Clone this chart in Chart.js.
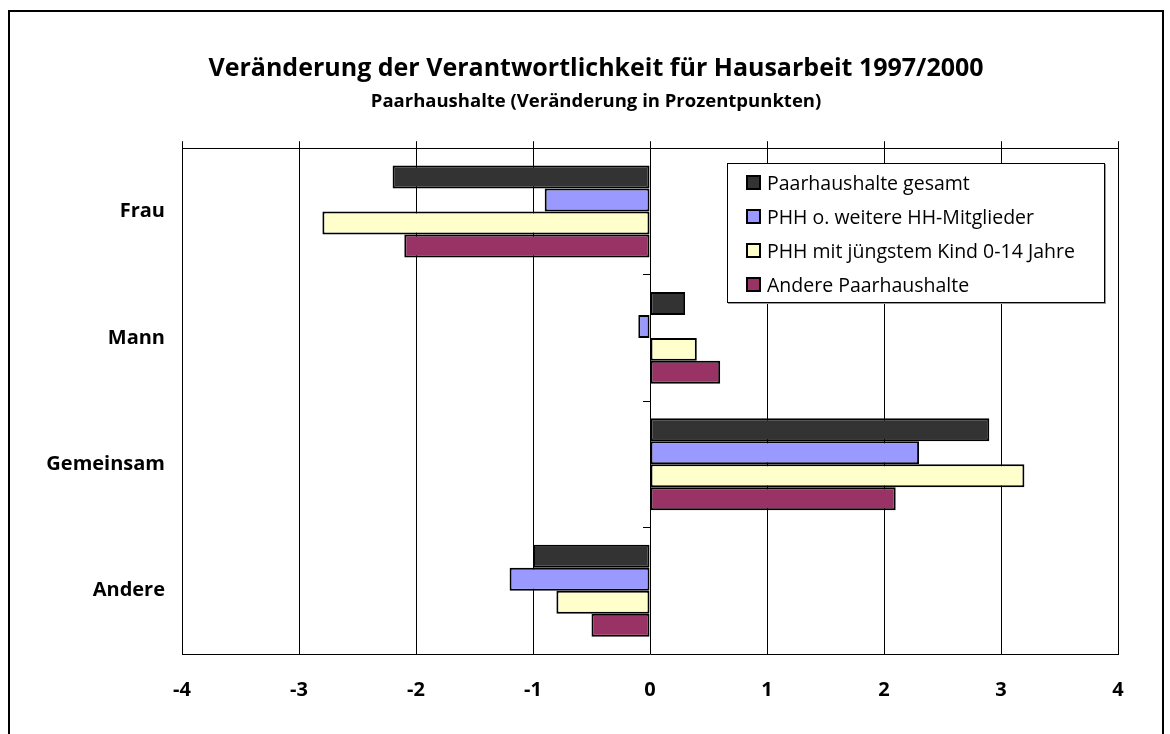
<!DOCTYPE html>
<html lang="de">
<head>
<meta charset="utf-8">
<title>Veränderung der Verantwortlichkeit für Hausarbeit 1997/2000</title>
<script src="https://cdn.jsdelivr.net/npm/chart.js@4.4.1/dist/chart.umd.min.js"></script>
<style>
    html, body { margin: 0; padding: 0; background: #fff; overflow: hidden; }
    body { width: 1170px; height: 734px; position: relative; font-family: "Open Sans", "Noto Sans", sans-serif; }
    #frame { position: absolute; left: 8px; top: 10px; width: 1152px; height: 760px; border: 2px solid #000; }
    #wrap { position: absolute; left: 0; top: 0; width: 1214px; height: 734px; }
    #legend {
        position: absolute; left: 727px; top: 163px; width: 376px; height: 137px;
        border: 1px solid #000; background: #fff; box-shadow: 1px 1px 0 #999;
        padding-top: 1px;
    }
    .row { display: flex; align-items: center; height: 34px; font-size: 19.5px; color: #000; white-space: nowrap; }
    .sw { width: 11px; height: 11px; border: 2px solid #000; margin-left: 18px; margin-right: 6px; flex-shrink: 0; }
</style>
</head>
<body>
<div id="frame"></div>
<div id="wrap"><canvas id="chart" width="1214" height="734"></canvas></div>
<div id="legend"></div>

<script>
// Kategorien und Reihen (Veränderung in Prozentpunkten)
const categories = ['Frau', 'Mann', 'Gemeinsam', 'Andere'];
const seriesNames = [
    'Paarhaushalte gesamt',
    'PHH o. weitere HH-Mitglieder',
    'PHH mit jüngstem Kind 0-14 Jahre',
    'Andere Paarhaushalte'
];
const gesamt = [-2.2, 0.3, 2.9, -1.0];
const ohneWeitere = [-0.9, -0.1, 2.3, -1.2];
const mitKind = [-2.8, 0.4, 3.2, -0.8];
const andere = [-2.1, 0.6, 2.1, -0.5];
const xTicks = [-4, -3, -2, -1, 0, 1, 2, 3, 4];
const seriesColors = ['#333333', '#9999ff', '#ffffcc', '#993366'];

const FONT = '"Open Sans", "Noto Sans", sans-serif';

function buildLegend() {
    const box = document.getElementById('legend');
    seriesNames.forEach((name, i) => {
        const row = document.createElement('div');
        row.className = 'row';
        row.innerHTML = `<span class="sw" style="background:${seriesColors[i]}"></span><span>${name}</span>`;
        box.appendChild(row);
    });
}

function initChart() {
    const ctx = document.getElementById('chart').getContext('2d');
    const values = [gesamt, ohneWeitere, mitKind, andere];

    new Chart(ctx, {
        type: 'bar',
        data: {
            labels: categories,
            datasets: seriesNames.map((name, i) => ({
                label: name,
                data: values[i],
                backgroundColor: seriesColors[i],
                borderColor: '#000',
                borderWidth: 2,
                borderSkipped: false,
                categoryPercentage: 0.727,
                barPercentage: 1.0
            }))
        },
        options: {
            indexAxis: 'y',
            responsive: false,
            animation: false,
            layout: {
                // canvas is wider than the page; right part is cut off
                padding: { top: 42, left: 0, right: 22, bottom: 0 }
            },
            plugins: {
                legend: { display: false },
                tooltip: { enabled: false },
                title: {
                    display: true,
                    text: 'Veränderung der Verantwortlichkeit für Hausarbeit 1997/2000',
                    color: '#000',
                    font: { family: FONT, size: 25, weight: 'bold' },
                    padding: { top: 12, bottom: 6 }
                },
                subtitle: {
                    display: true,
                    text: 'Paarhaushalte (Veränderung in Prozentpunkten)',
                    color: '#000',
                    font: { family: FONT, size: 18.5, weight: 'bold' },
                    padding: { top: 1, bottom: 28 }
                }
            },
            scales: {
                x: {
                    type: 'linear',
                    position: 'bottom',
                    min: -4,
                    max: 4,
                    afterBuildTicks: function(scale) {
                        scale.ticks = xTicks.map(v => ({ value: v }));
                    },
                    afterFit: function(scale) { scale.height = 80; },
                    grid: { color: '#000', lineWidth: 1, drawTicks: false },
                    border: { display: true, color: '#000', width: 1 },
                    ticks: {
                        color: '#000',
                        padding: 24,
                        font: { family: FONT, size: 20, weight: 'bold' }
                    }
                },
                x2: {
                    type: 'linear',
                    position: 'top',
                    min: -4,
                    max: 4,
                    afterBuildTicks: function(scale) {
                        scale.ticks = xTicks.map(v => ({ value: v }));
                    },
                    afterFit: function(scale) { scale.height = 7; },
                    grid: { color: '#000', lineWidth: 1, drawOnChartArea: false, drawTicks: true, tickLength: 7 },
                    border: { display: true, color: '#000', width: 1 },
                    ticks: { display: false }
                },
                y: {
                    position: 'left',
                    afterFit: function(scale) { scale.width = 182; },
                    grid: { display: false, drawTicks: false },
                    border: { display: false },
                    ticks: {
                        color: '#000',
                        padding: 17,
                        font: { family: FONT, size: 20, weight: 'bold' }
                    }
                },
                y2: {
                    type: 'category',
                    position: { x: 0 },
                    grid: { offset: true, color: '#000', lineWidth: 1, drawOnChartArea: false, drawTicks: true, tickLength: 7 },
                    border: { display: false },
                    ticks: { display: false }
                },
                // empty box on the right so the title is centred like in the original
                yPad: {
                    type: 'category',
                    position: 'right',
                    afterFit: function(scale) { scale.width = 74; },
                    grid: { display: false, drawTicks: false },
                    border: { display: false },
                    ticks: { display: false }
                }
            }
        }
    });
}

buildLegend();
initChart();
</script>
</body>
</html>
